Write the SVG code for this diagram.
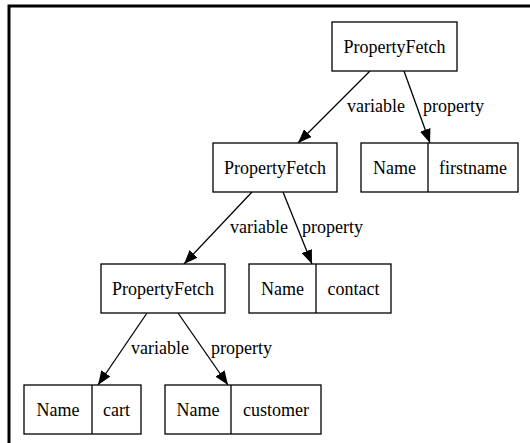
<svg xmlns="http://www.w3.org/2000/svg" width="530" height="443" viewBox="0 0 530 443">
<style>
.box{fill:#fff;stroke:#000;stroke-width:1.3}
.div{stroke:#000;stroke-width:1.3}
.t{font-family:"Liberation Serif","Times New Roman",serif;font-size:18px;fill:#000;text-anchor:middle}
.l{font-family:"Liberation Serif","Times New Roman",serif;font-size:18px;fill:#000}
.e{stroke:#000;stroke-width:1.3;fill:none}
</style>
<defs>
<marker id="ah" markerUnits="userSpaceOnUse" markerWidth="15" markerHeight="11" refX="14" refY="5.5" orient="auto">
<path d="M0,0 L14,5.5 L0,11 Z" fill="#000"/>
</marker>
</defs>
<rect x="0" y="0" width="530" height="443" fill="#fff"/>
<path d="M9,443 V6 H530" fill="none" stroke="#000" stroke-width="3"/>
<g id="connectors">
<line class="e" x1="370" y1="71" x2="298" y2="143" marker-end="url(#ah)"/>
<line class="e" x1="404" y1="71" x2="430" y2="143" marker-end="url(#ah)"/>
<line class="e" x1="252" y1="192" x2="184" y2="264" marker-end="url(#ah)"/>
<line class="e" x1="283" y1="192" x2="312" y2="264" marker-end="url(#ah)"/>
<line class="e" x1="147" y1="313" x2="98" y2="385" marker-end="url(#ah)"/>
<line class="e" x1="178" y1="313" x2="228" y2="385" marker-end="url(#ah)"/>
<text class="l" x="347" y="112">variable</text>
<text class="l" x="423" y="112">property</text>
<text class="l" x="230" y="233">variable</text>
<text class="l" x="302" y="233">property</text>
<text class="l" x="131" y="354">variable</text>
<text class="l" x="211" y="354">property</text>
</g>
<g id="pf1">
<rect class="box" x="332" y="22" width="125" height="49"/>
<text class="t" x="394.5" y="53">PropertyFetch</text>
</g>
<g id="pf2">
<rect class="box" x="213" y="143" width="124" height="49"/>
<text class="t" x="275" y="174">PropertyFetch</text>
</g>
<g id="name_firstname">
<rect class="box" x="361" y="143" width="157" height="49"/>
<line class="div" x1="428" y1="143" x2="428" y2="192"/>
<text class="t" x="394.5" y="174">Name</text>
<text class="t" x="473" y="174">firstname</text>
</g>
<g id="pf3">
<rect class="box" x="101" y="264" width="124" height="49"/>
<text class="t" x="163" y="295">PropertyFetch</text>
</g>
<g id="name_contact">
<rect class="box" x="249" y="264" width="142" height="49"/>
<line class="div" x1="316" y1="264" x2="316" y2="313"/>
<text class="t" x="282.5" y="295">Name</text>
<text class="t" x="353.5" y="295">contact</text>
</g>
<g id="name_cart">
<rect class="box" x="24" y="385" width="117" height="49"/>
<line class="div" x1="92" y1="385" x2="92" y2="434"/>
<text class="t" x="58" y="416">Name</text>
<text class="t" x="116.5" y="416">cart</text>
</g>
<g id="name_customer">
<rect class="box" x="165" y="385" width="156" height="49"/>
<line class="div" x1="231" y1="385" x2="231" y2="434"/>
<text class="t" x="198" y="416">Name</text>
<text class="t" x="276" y="416">customer</text>
</g>
</svg>
